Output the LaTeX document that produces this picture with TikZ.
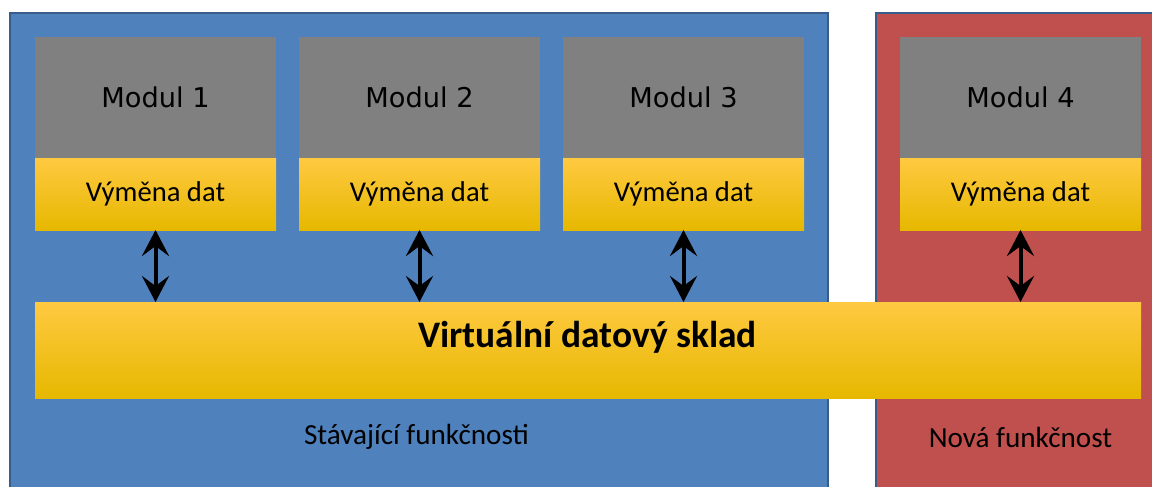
\documentclass[tikz,border=0pt]{standalone}
\usepackage{fontspec}
\setmainfont{Carlito}
\newfontfamily\modfont{DejaVu Sans}
\usetikzlibrary{positioning,arrows.meta}
\definecolor{panelblue}{HTML}{4F81BD}
\definecolor{panelred}{HTML}{C0504D}
\definecolor{panelline}{HTML}{385D8A}
\definecolor{modgray}{HTML}{808080}
\definecolor{ytop}{HTML}{FFC941}
\definecolor{ymid}{HTML}{FFC000}
\definecolor{ybot}{HTML}{E6B800}
\begin{document}
\begin{tikzpicture}[node distance=5.28cm,
    mod node/.style={rectangle, fill=modgray, inner sep=0pt, outer sep=0pt, minimum width=4.82cm, minimum height=2.42cm, font=\modfont\fontsize{15.5}{18}\selectfont},
    xchg node/.style={rectangle, top color=ytop, middle color=ymid, bottom color=ybot, inner sep=0pt, outer sep=0pt, minimum width=4.82cm, minimum height=1.44cm, font=\fontsize{16.3}{19}\selectfont},
    link/.style={{Stealth[length=0.52cm,width=0.54cm,inset=0.2cm]}-{Stealth[length=0.52cm,width=0.54cm,inset=0.2cm]}, line width=0.08cm}]
        \useasboundingbox (0,0) rectangle (23.04,-9.72);

          % panels
          \fill[panelblue] (0.2,-0.26) rectangle (16.56,-9.9);
          \draw[panelline, line width=0.04cm] (0.2,-0.26) rectangle (16.56,-9.9);
          \fill[panelred] (17.52,-0.26) rectangle (23.3,-9.9);
          \draw[panelline, line width=0.04cm] (17.52,-0.26) rectangle (23.3,-9.9);

          % modules
          \node[mod node] (m1) at (3.11,-1.95) {Modul 1};
          \node[mod node] (m2) [right of=m1] {Modul 2};
          \node[mod node] (m3) [right of=m2] {Modul 3};
          \node[mod node] (m4) at (20.41,-1.95) {Modul 4};

          \node[xchg node] (x1) [below=0pt of m1] {Výměna dat};
          \node[xchg node] (x2) [below=0pt of m2] {Výměna dat};
          \node[xchg node] (x3) [below=0pt of m3] {Výměna dat};
          \node[xchg node] (x4) [below=0pt of m4] {Výměna dat};

          % data store
          \node[rectangle, top color=ytop, middle color=ymid, bottom color=ybot, inner sep=0pt, outer sep=0pt,
                minimum width=22.12cm, minimum height=1.92cm] (sklad) at (11.76,-7.0) {};
          \node[font=\bfseries\fontsize{21.3}{25}\selectfont] (skladtxt) at (11.75,-6.74) {Virtuální datový sklad};

          \foreach \x in {x1,x2,x3,x4}
            \draw[link] (\x.south) -- (\x.south |- sklad.north);

          \node[font=\fontsize{16.6}{19}\selectfont] (stare) at (8.33,-8.74) {Stávající funkčnosti};
          \node[font=\fontsize{16.6}{19}\selectfont] (nove) at (20.41,-8.74) {Nová funkčnost};

\end{tikzpicture}
\end{document}
